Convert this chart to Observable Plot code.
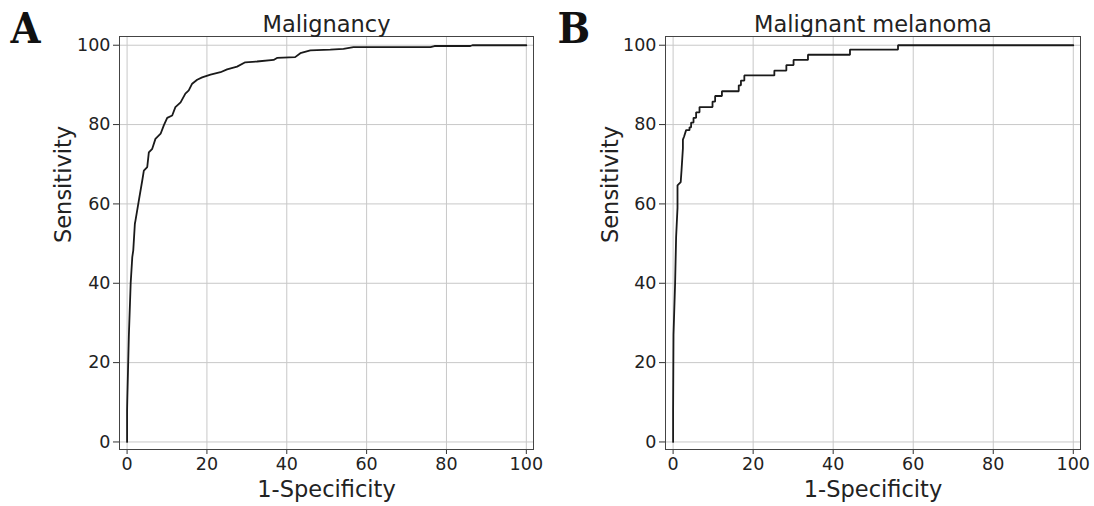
<!DOCTYPE html>
<html>
<head>
<meta charset="utf-8">
<script src="https://cdn.jsdelivr.net/npm/d3@7"></script>
<script src="https://cdn.jsdelivr.net/npm/@observablehq/plot@0.6"></script>
<style>
  html, body { margin: 0; padding: 0; background: #fff; }
  #wrap { display: flex; width: 1094px; height: 506px; }
</style>
</head>
<body>
<div id="wrap"></div>
<script>
// Panel A: Malignancy ROC (1-Specificity %, Sensitivity %)
const aFpr = [0, 0, 0.05, 0.45, 0.9, 1.3, 1.55, 1.95, 2.1, 2.95, 3.8, 4.2, 5.05, 5.45, 6.3, 7.1, 8.4, 9.2, 10.05, 11.3, 12.1, 13.4, 14.6, 15.45, 16.3, 17.55, 18.8, 20.9, 23.4, 25.05, 27.55, 29.6, 32.55, 36.7, 37.55, 42.1, 43.4, 45.9, 50.9, 54.2, 56.7, 76.0, 77.0, 86.0, 86.5, 100];
const aTpr = [0, 8, 10.5, 27, 40, 46.6, 48.3, 55, 55.8, 60.9, 65.9, 68.4, 69.3, 73, 73.9, 76.4, 77.7, 79.8, 81.7, 82.3, 84.4, 85.6, 87.8, 88.6, 90.3, 91.3, 91.9, 92.6, 93.2, 93.9, 94.6, 95.7, 95.9, 96.3, 96.8, 97.0, 98.0, 98.7, 98.9, 99.1, 99.5, 99.5, 99.8, 99.8, 100, 100];

// Panel B: Malignant melanoma ROC
const bFpr = [0, 0, 0.1, 0.5, 0.75, 1.1, 1.1, 1.9, 2.1, 2.45, 2.45, 2.75, 3.25, 4.1, 4.1, 4.5, 4.5, 5.1, 5.1, 5.75, 5.75, 6.6, 6.6, 9.85, 9.85, 10.5, 10.5, 12.2, 12.2, 16.4, 16.4, 16.95, 16.95, 17.8, 17.8, 25.3, 25.3, 28.3, 28.3, 30.1, 30.1, 33.7, 33.7, 44.2, 44.2, 56.2, 56.2, 100];
const bTpr = [0, 8, 27, 40, 51.6, 59, 64.7, 65.5, 68.4, 74, 76.2, 77, 78.6, 78.6, 79.3, 79.3, 80.5, 80.5, 81.7, 81.7, 83.1, 83.1, 84.4, 84.4, 85.8, 85.8, 87.2, 87.2, 88.4, 88.4, 89.9, 89.9, 91.1, 91.1, 92.4, 92.4, 93.6, 93.6, 95.0, 95.0, 96.3, 96.3, 97.6, 97.6, 98.9, 98.9, 100, 100];

const xTicks = [0, 20, 40, 60, 80, 100];
const yTicks = [0, 20, 40, 60, 80, 100];
const titles = ["Malignancy", "Malignant melanoma"];
const letters = ["A", "B"];
const xLabel = "1-Specificity";
const yLabel = "Sensitivity";

function panel(xs, ys, title, letter, marginLeft, marginRight) {
  const data = xs.map((x, i) => ({x, y: ys[i]}));
  return Plot.plot({
    width: 547,
    height: 506,
    marginLeft,
    marginRight,
    marginTop: 36,
    marginBottom: 57,
    style: {fontFamily: "DejaVu Sans, sans-serif", fontSize: "17.5px", color: "#222", background: "#fff"},
    x: {domain: [-1.9, 101.8], label: null},
    y: {domain: [-1.9, 102.2], label: null},
    marks: [
      Plot.gridX(xTicks, {stroke: "#c8c8c8", strokeOpacity: 1, strokeWidth: 1}),
      Plot.gridY(yTicks, {stroke: "#c8c8c8", strokeOpacity: 1, strokeWidth: 1}),
      Plot.axisX(xTicks, {tickSize: 5, tickPadding: 3.5, fontSize: 17.5, label: null, stroke: "#333", fill: "#222"}),
      Plot.axisY(yTicks, {tickSize: 6, tickPadding: 3, fontSize: 17.5, label: null, stroke: "#333", fill: "#222"}),
      Plot.line(data, {x: "x", y: "y", stroke: "#1a1a1a", strokeWidth: 1.8, strokeLinejoin: "miter"}),
      Plot.frame({stroke: "#444", strokeWidth: 1}),
      Plot.text([title], {frameAnchor: "top", lineAnchor: "bottom", dy: -5, fontSize: 22.5, fill: "#222"}),
      Plot.text([xLabel], {frameAnchor: "bottom", lineAnchor: "bottom", dy: 47, fontSize: 22.5, fill: "#222"}),
      Plot.text([yLabel], {frameAnchor: "left", lineAnchor: "bottom", rotate: -90, dx: -(marginLeft - 70), fontSize: 22.5, fill: "#222"}),
      Plot.text([letter], {frameAnchor: "top-left", textAnchor: "start", lineAnchor: "bottom", dx: -(marginLeft - 10), dy: 6, fontSize: 43, fontWeight: "bold", fontFamily: "'DejaVu Serif Condensed', 'DejaVu Serif', serif", fill: "#111"})
    ]
  });
}

const wrap = document.getElementById("wrap");
wrap.appendChild(panel(aFpr, aTpr, titles[0], letters[0], 119, 14));
wrap.appendChild(panel(bFpr, bTpr, titles[1], letters[1], 118, 14));
</script>
</body>
</html>
